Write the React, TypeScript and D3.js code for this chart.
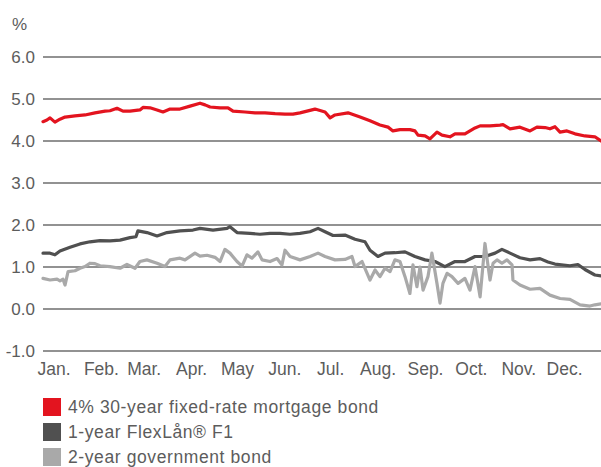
import React from "react";
import * as d3 from "d3";

// [day of year, value %]
const mortgageBond: [number, number][] = [
  [0, 4.46], [2.6, 4.5], [4.6, 4.55], [7.8, 4.45], [11.1, 4.52], [14.4, 4.57], [20.9, 4.6],
  [27.5, 4.62], [34, 4.67], [40.6, 4.71], [43.8, 4.72], [48.4, 4.78], [52.3, 4.71], [56.9, 4.71],
  [63.4, 4.74], [65.4, 4.8], [70, 4.79], [74.6, 4.74], [78.5, 4.69], [83.1, 4.76], [89.6, 4.76],
  [96.2, 4.83], [102.7, 4.9], [106, 4.86], [109.3, 4.81], [115.8, 4.79], [121, 4.79], [124.3, 4.71],
  [132.1, 4.69], [138.7, 4.67], [145.2, 4.67], [151.8, 4.65], [158.3, 4.64], [163.5, 4.64],
  [168.1, 4.67], [177.9, 4.76], [184.5, 4.69], [187.8, 4.55], [191, 4.62], [199.5, 4.67],
  [207.4, 4.57], [213.9, 4.48], [220.4, 4.38], [225.7, 4.33], [228.9, 4.24], [233.5, 4.27],
  [240, 4.27], [243.3, 4.24], [245.3, 4.14], [249.9, 4.12], [253.1, 4.05], [257.7, 4.21],
  [261, 4.14], [266.2, 4.1], [269.5, 4.17], [276, 4.17], [282.6, 4.31], [285.9, 4.36],
  [292.4, 4.36], [298.9, 4.38], [300.9, 4.39], [305.5, 4.29], [312, 4.33], [318.6, 4.24],
  [323.1, 4.33], [328.4, 4.32], [331.6, 4.29], [334.9, 4.34], [338.2, 4.21], [342.7, 4.24],
  [348, 4.17], [354.5, 4.12], [361, 4.1], [365, 4.0],
];

const flexLan: [number, number][] = [
  [0, 1.33], [4.6, 1.33], [7.8, 1.29], [11.1, 1.38], [17.7, 1.47], [24.2, 1.55], [30.7, 1.6],
  [37.3, 1.63], [43.8, 1.62], [50.4, 1.64], [56.9, 1.7], [60.8, 1.72], [62.1, 1.86], [68, 1.82],
  [74.6, 1.74], [81.1, 1.82], [89.6, 1.86], [98.1, 1.88], [102.7, 1.92], [111.2, 1.88],
  [120.4, 1.92], [122.3, 1.96], [126.9, 1.82], [135.4, 1.8], [141.9, 1.78], [148.5, 1.8],
  [155, 1.8], [161.6, 1.78], [168.1, 1.8], [174.7, 1.84], [179.9, 1.92], [184.5, 1.84],
  [189.7, 1.75], [197.5, 1.76], [204.1, 1.66], [210.6, 1.6], [213.9, 1.4], [219.1, 1.25],
  [223.7, 1.33], [230.2, 1.34], [236.8, 1.36], [243.3, 1.25], [249.9, 1.17], [256.4, 1.13],
  [262.9, 1.01], [269.5, 1.13], [276, 1.13], [282.6, 1.25], [289.1, 1.25], [295.7, 1.33],
  [300.2, 1.42], [305.5, 1.33], [312, 1.22], [318.6, 1.17], [325.1, 1.2], [330.3, 1.12],
  [334.9, 1.07], [344.7, 1.03], [349.9, 1.06], [354.5, 0.94], [361, 0.81], [365, 0.79],
];

const govBond: [number, number][] = [
  [0, 0.73], [4.6, 0.69], [9.2, 0.71], [11.1, 0.67], [13.1, 0.71], [14.4, 0.57], [16.4, 0.89],
  [20.9, 0.91], [24.2, 0.97], [27.5, 1.01], [30.7, 1.09], [34, 1.08], [37.3, 1.03], [43.8, 1.01],
  [50.4, 0.97], [54.9, 1.06], [60.2, 0.97], [63.4, 1.13], [68, 1.17], [74.6, 1.09], [79.8, 1.01],
  [83.1, 1.17], [89.6, 1.21], [92.9, 1.17], [99.4, 1.33], [102.7, 1.26], [107.3, 1.28],
  [112.5, 1.23], [115.8, 1.13], [119, 1.42], [122.3, 1.33], [126.9, 1.13], [130.2, 1.02],
  [133.4, 1.29], [136.7, 1.21], [140.6, 1.36], [143.3, 1.17], [148.5, 1.13], [153.1, 1.2],
  [156.3, 1.05], [158.3, 1.4], [161.6, 1.25], [168.1, 1.17], [174.7, 1.25], [179.9, 1.33],
  [184.5, 1.25], [191, 1.17], [197.5, 1.18], [202.1, 1.25], [204.1, 1.01], [208.7, 1.13],
  [213.9, 0.69], [217.2, 0.93], [220.4, 0.77], [223.7, 0.97], [227, 0.89], [230.2, 1.17],
  [233.5, 1.13], [236.8, 0.77], [240, 0.37], [242, 1.05], [244.6, 0.53], [246.6, 1.0],
  [248.6, 0.45], [251.8, 0.77], [254.4, 1.33], [257.7, 0.61], [259.7, 0.14], [261.6, 0.61],
  [264.3, 0.85], [267.5, 0.77], [271.5, 0.61], [276, 0.73], [279.3, 0.45], [282.6, 1.01],
  [285.9, 0.29], [289.1, 1.56], [292.4, 0.69], [294.4, 1.09], [297, 1.17], [300.2, 1.09],
  [303.5, 1.17], [306.8, 1.05], [307.4, 0.69], [312, 0.57], [318.6, 0.47], [325.1, 0.49],
  [331.6, 0.33], [338.2, 0.25], [344.7, 0.23], [351.3, 0.1], [357.8, 0.07], [361, 0.1], [365, 0.12],
];

const yTicks = [6, 5, 4, 3, 2, 1, 0, -1];
const months = ["Jan.", "Feb.", "Mar.", "Apr.", "May", "Jun.", "Jul.", "Aug.", "Sep.", "Oct.", "Nov.", "Dec."];
const monthStartDays = [0, 31, 59, 90, 120, 151, 181, 212, 243, 273, 304, 334];

const legendItems = [
  { label: "4% 30-year fixed-rate mortgage bond", color: "#e3141f" },
  { label: "1-year FlexLån® F1", color: "#505050" },
  { label: "2-year government bond", color: "#a9a9a9" },
];

const W = 601;
const H = 467;
const FONT = "'Liberation Sans', Arial, Helvetica, sans-serif";
const TEXT = "#5c5c5c";

export default function App() {
  const x = d3.scaleLinear().domain([0, 365]).range([43, 601]);
  const y = d3.scaleLinear().domain([-1, 6]).range([351, 57]);
  const line = d3
    .line<[number, number]>()
    .x((d) => x(d[0]))
    .y((d) => y(d[1]));

  const series = [
    { data: flexLan, color: legendItems[1].color },
    { data: govBond, color: legendItems[2].color },
    { data: mortgageBond, color: legendItems[0].color },
  ];

  return (
    <svg
      width={W}
      height={H}
      style={{ position: "absolute", left: 0, top: 0, background: "#fff" }}
      fontFamily={FONT}
    >
      <text x={12} y={30} fontSize={17} fill={TEXT}>%</text>
      {yTicks.map((t) => (
        <g key={t}>
          <line x1={43} x2={601} y1={y(t)} y2={y(t)} stroke="#6e6e6e" strokeWidth={1.3} />
          <text x={35} y={y(t)} dy="0.36em" textAnchor="end" fontSize={17} fill={TEXT}>
            {t.toFixed(1)}
          </text>
        </g>
      ))}
      {months.map((m, i) => (
        <text key={m} x={x(monthStartDays[i]) + 11} y={375} textAnchor="middle" fontSize={17.5} fill={TEXT}>
          {m}
        </text>
      ))}
      {series.map((s, i) => (
        <path
          key={i}
          d={line(s.data) || ""}
          fill="none"
          stroke={s.color}
          strokeWidth={3.2}
          strokeLinejoin="round"
          strokeLinecap="round"
        />
      ))}
      {legendItems.map((l, i) => (
        <g key={l.label} transform={`translate(43, ${398 + i * 25})`}>
          <rect width={18} height={18} fill={l.color} />
          <text x={25} y={15} fontSize={17.5} letterSpacing={0.6} fill={TEXT}>{l.label}</text>
        </g>
      ))}
    </svg>
  );
}
